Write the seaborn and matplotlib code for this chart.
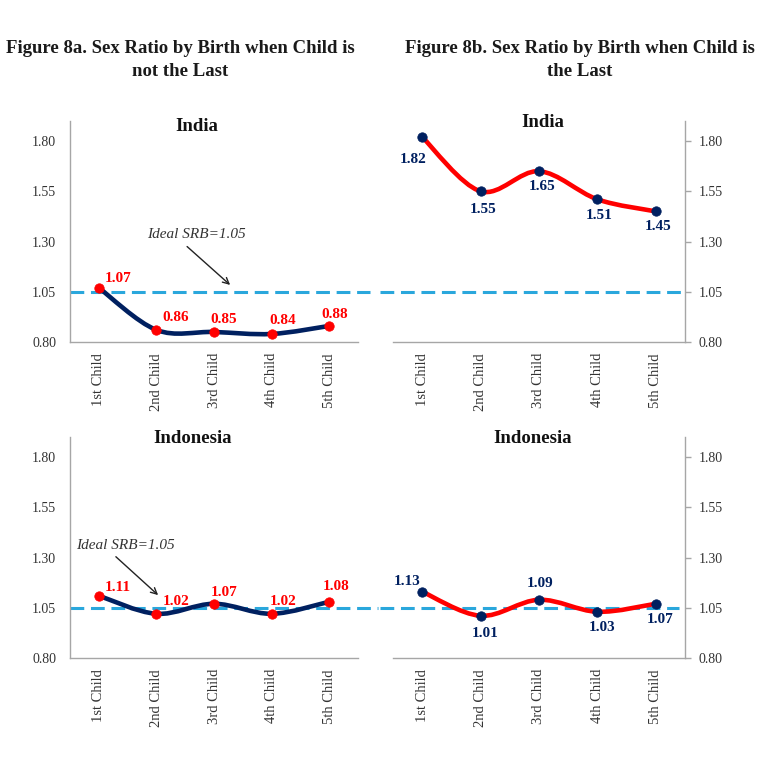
import numpy as np
import matplotlib.pyplot as plt
from matplotlib.path import Path
from matplotlib.patches import PathPatch
import seaborn as sns

children = ['1st Child', '2nd Child', '3rd Child', '4th Child', '5th Child']
india_not_last = [1.07, 0.86, 0.85, 0.84, 0.88]
india_last = [1.82, 1.55, 1.65, 1.51, 1.45]
indonesia_not_last = [1.11, 1.02, 1.07, 1.02, 1.08]
indonesia_last = [1.13, 1.01, 1.09, 1.03, 1.07]
ideal_srb = 1.05
y_ticks = [0.80, 1.05, 1.30, 1.55, 1.80]

NAVY = '#002060'
RED = '#FF0000'
DASH = '#2AA7DC'
GRID = '#A6A6A6'
TXT = '#333333'

sns.set_style('white')
plt.rcParams['font.family'] = ['Liberation Serif', 'DejaVu Serif']


def smooth_path(xs, ys):
    # excel-style smoothed line: bezier segments through the data points
    pts = np.column_stack([xs, ys]).astype(float)
    ext = np.vstack([pts[0], pts, pts[-1]])
    verts = [pts[0]]
    codes = [Path.MOVETO]
    for i in range(len(pts) - 1):
        p0, p1, p2, p3 = ext[i], ext[i + 1], ext[i + 2], ext[i + 3]
        verts += [p1 + (p2 - p0) / 6, p2 - (p3 - p1) / 6, p2]
        codes += [Path.CURVE4] * 3
    return Path(verts, codes)


def draw_panel(ax, values, line_color, dot_color, title, title_x, side, offsets, dash_span):
    x = np.arange(len(children))
    ax.add_patch(PathPatch(smooth_path(x, values), fill=False, edgecolor=line_color,
                           lw=3.3, capstyle='round', joinstyle='round', zorder=3))
    sns.scatterplot(x=x, y=values, color=dot_color, edgecolor=dot_color, s=46,
                    zorder=4, ax=ax, legend=False)
    for xi, v, off in zip(x, values, offsets):
        ax.annotate(f'{v:.2f}', xy=(xi, v), xytext=off, textcoords='offset points',
                    ha='center', va='center', fontsize=11, fontweight='bold',
                    color=dot_color, zorder=5)

    ax.axhline(ideal_srb, xmin=dash_span[0], xmax=dash_span[1], color=DASH, lw=2.2,
               ls=(0, (4.5, 2.2)), clip_on=False, zorder=2)

    ax.set_xlim(-0.5, 4.5)
    ax.set_ylim(0.80, 1.90)
    ax.set_yticks(y_ticks)
    ax.set_yticklabels([f'{t:.2f}' for t in y_ticks], fontsize=10, color=TXT)
    ax.set_xticks(x)
    ax.set_xticklabels(children, rotation=90, fontsize=10.5, color=TXT)
    ax.set_xticks(np.arange(-0.5, 5, 1), minor=True)
    ax.tick_params(axis='x', which='major', length=0, pad=8)
    ax.tick_params(axis='x', which='minor', length=5, color=GRID, width=1)
    ax.tick_params(axis='y', length=4, color=GRID, width=1, pad=6)
    ax.set_xlabel('')
    ax.set_ylabel('')

    ax.spines['top'].set_visible(False)
    ax.spines['bottom'].set_color(GRID)
    if side == 'left':
        ax.spines['right'].set_visible(False)
        ax.spines['left'].set_color(GRID)
    else:
        ax.spines['left'].set_visible(False)
        ax.spines['right'].set_color(GRID)
        ax.yaxis.tick_right()
    for s in ax.spines.values():
        s.set_linewidth(1)

    ax.text(title_x[0], title_x[1], title, transform=ax.transAxes, ha='center',
            va='center', fontsize=13.5, fontweight='bold', color='#111111')


fig = plt.figure(figsize=(7.59, 7.57), dpi=100)
W, H = 759, 757


def add_axes(left, right, top, bottom):
    return fig.add_axes([left / W, 1 - bottom / H, (right - left) / W, (bottom - top) / H])


ax_tl = add_axes(70, 358, 121, 342)
ax_tr = add_axes(393, 685, 121, 342)
ax_bl = add_axes(70, 358, 437, 658)
ax_br = add_axes(393, 685, 437, 658)

draw_panel(ax_tl, india_not_last, NAVY, RED, 'India', (0.441, 0.973), 'left',
           [(14, 6.5), (14, 9), (7, 9), (8, 10), (4, 8)], (0, 1.042))
draw_panel(ax_tr, india_last, RED, NAVY, 'India', (0.514, 0.995), 'right',
           [(-6.5, -16), (1.5, -13), (2, -11), (1.5, -11.5), (2, -11)], (-0.045, 1))
draw_panel(ax_bl, indonesia_not_last, NAVY, RED, 'Indonesia', (0.424, 0.995), 'left',
           [(14, 6), (14, 9), (7, 8), (8, 9), (5, 11)], (0, 1.07))
draw_panel(ax_br, indonesia_last, RED, NAVY, 'Indonesia', (0.479, 0.995), 'right',
           [(-11, 7), (3.5, -13), (1, 12), (3, -11.5), (3, -11.5)], (-0.045, 0.98))

arrow = dict(arrowstyle='->', color='#222222', lw=1, shrinkA=2, shrinkB=0)
ax_tl.annotate('Ideal SRB=1.05', xy=(2.28, 1.084), xytext=(1.69, 1.333),
               ha='center', va='center', fontsize=11, style='italic', color=TXT,
               arrowprops=dict(arrow, relpos=(0.35, 0)))
ax_bl.annotate('Ideal SRB=1.05', xy=(1.03, 1.113), xytext=(0.455, 1.362),
               ha='center', va='center', fontsize=11, style='italic', color=TXT,
               arrowprops=dict(arrow, relpos=(0.35, 0)), annotation_clip=False)

fig.text(180 / W, 1 - 60 / H, 'Figure 8a. Sex Ratio by Birth when Child is\nnot the Last',
         ha='center', va='center', fontsize=13.5, fontweight='bold', linespacing=1.4,
         color='#1a1a1a')
fig.text(580 / W, 1 - 60 / H, 'Figure 8b. Sex Ratio by Birth when Child is\nthe Last',
         ha='center', va='center', fontsize=13.5, fontweight='bold', linespacing=1.4,
         color='#1a1a1a')

fig.savefig('out.png', dpi=100)
